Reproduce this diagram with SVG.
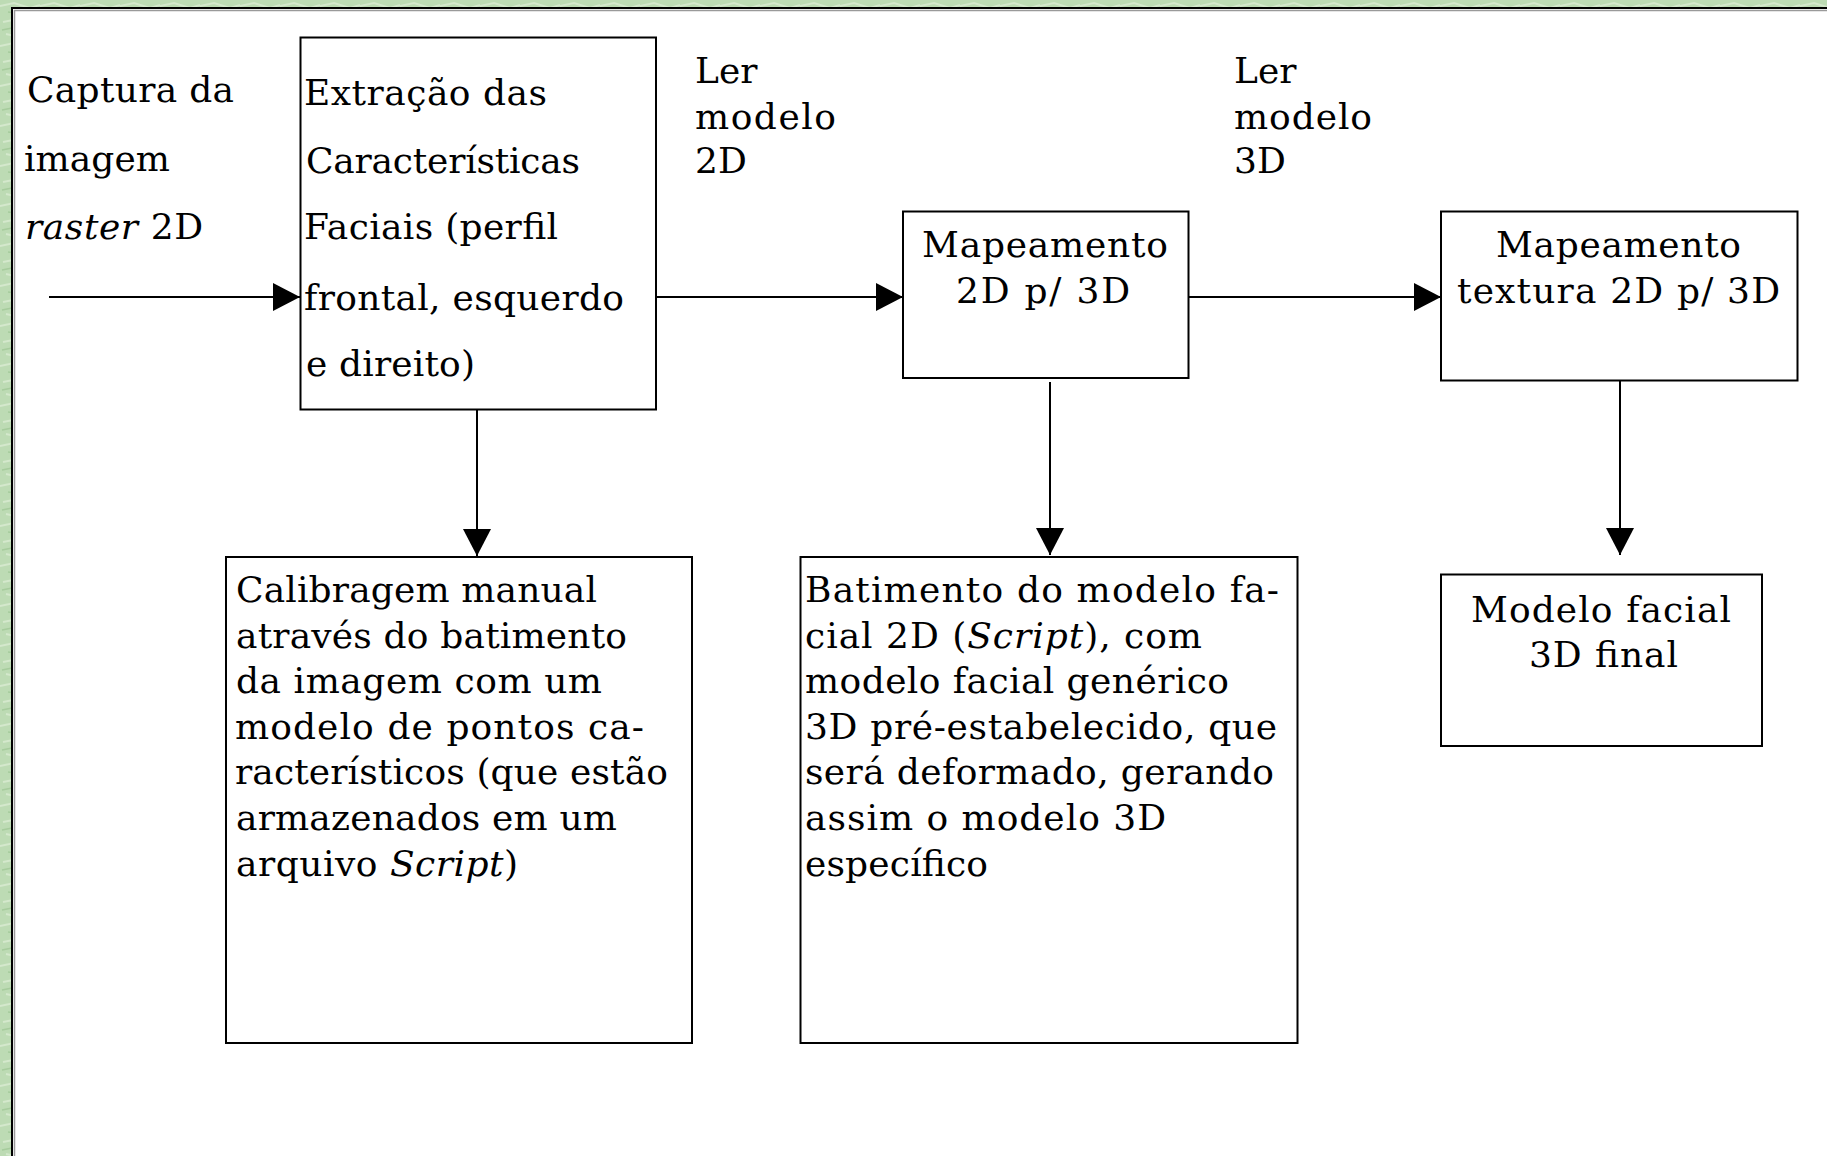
<svg xmlns="http://www.w3.org/2000/svg" width="1827" height="1156" viewBox="0 0 1827 1156">
<style>
text{font-family:'DejaVu Serif',serif;font-size:36px;fill:#000}
.box{fill:#fff;stroke:#000;stroke-width:2}
.con{stroke:#000;stroke-width:2;fill:none}
.it{font-style:italic}
</style>
<defs>
<marker id="ah" markerUnits="userSpaceOnUse" markerWidth="30" markerHeight="30" refX="27" refY="14" orient="auto">
<path d="M0,0 L27,14 L0,28 z" fill="#000"/>
</marker>
<pattern id="tex" width="40" height="40" patternUnits="userSpaceOnUse">
<rect width="40" height="40" fill="#bddbb4"/>
<path d="M0,6 L14,3 L30,8 L40,5 M3,22 L18,19 L26,25 L40,21 M6,34 L20,37 L34,32" stroke="#d4e8cc" stroke-width="2" fill="none"/>
<path d="M8,12 L22,14 L36,12 M2,30 L12,28" stroke="#a6cc9c" stroke-width="1.5" fill="none"/>
</pattern>
</defs>
<rect width="1827" height="1156" fill="url(#tex)"/>
<rect x="12" y="8" width="1815" height="1148" fill="#fff"/>
<path d="M12,1156 V8 H1827" fill="none" stroke="#000" stroke-width="2"/>
<path d="M14.5,1156 V10.5 H1827" fill="none" stroke="#9a9a9a" stroke-width="1.5"/>

<g id="label-captura">
<text x="27" y="102" textLength="207">Captura da</text>
<text x="24" y="171" textLength="146">imagem</text>
<text x="25" y="239" textLength="178"><tspan class="it">raster</tspan> 2D</text>
</g>

<g id="node-extracao">
<rect class="box" x="300.5" y="37.5" width="355.5" height="372"/>
<text x="304" y="105" textLength="243">Extração das</text>
<text x="306" y="173" textLength="274">Características</text>
<text x="304" y="239" textLength="254">Faciais (perfil</text>
<text x="304" y="310" textLength="320">frontal, esquerdo</text>
<text x="306" y="376" textLength="169">e direito)</text>
</g>

<g id="label-ler2d">
<text x="695" y="83">Ler</text>
<text x="695" y="129" textLength="141">modelo</text>
<text x="695" y="173">2D</text>
</g>

<g id="label-ler3d">
<text x="1234" y="83">Ler</text>
<text x="1234" y="129" textLength="138">modelo</text>
<text x="1234" y="173">3D</text>
</g>

<g id="node-mapeamento">
<rect class="box" x="903" y="211.5" width="285.5" height="166.5"/>
<text x="922" y="257" textLength="246">Mapeamento</text>
<text x="956" y="303" textLength="174">2D p/ 3D</text>
</g>

<g id="node-textura">
<rect class="box" x="1441" y="211.5" width="356.5" height="169"/>
<text x="1496" y="257" textLength="245">Mapeamento</text>
<text x="1457" y="303" textLength="323">textura 2D p/ 3D</text>
</g>

<g id="node-calibragem">
<rect class="box" x="226" y="557" width="466" height="486"/>
<text x="236" y="602" textLength="361">Calibragem manual</text>
<text x="236" y="648" textLength="391">através do batimento</text>
<text x="236" y="693" textLength="366">da imagem com um</text>
<text x="235" y="739" textLength="409">modelo de pontos ca-</text>
<text x="235" y="784" textLength="433">racterísticos (que estão</text>
<text x="236" y="830" textLength="381">armazenados em um</text>
<text x="236" y="876" textLength="282">arquivo <tspan class="it">Script</tspan>)</text>
</g>

<g id="node-batimento">
<rect class="box" x="800.5" y="557" width="497" height="486"/>
<text x="805" y="602" textLength="474">Batimento do modelo fa-</text>
<text x="805" y="648" textLength="397">cial 2D (<tspan class="it">Script</tspan>), com</text>
<text x="805" y="693" textLength="424">modelo facial genérico</text>
<text x="805" y="739" textLength="472">3D pré-estabelecido, que</text>
<text x="805" y="784" textLength="469">será deformado, gerando</text>
<text x="805" y="830" textLength="361">assim o modelo 3D</text>
<text x="805" y="876" textLength="183">específico</text>
</g>

<g id="node-final">
<rect class="box" x="1441" y="574.5" width="321" height="171.5"/>
<text x="1471" y="622" textLength="260">Modelo facial</text>
<text x="1529" y="667" textLength="149">3D final</text>
</g>

<g id="connectors">
<line class="con" x1="49" y1="297" x2="300" y2="297" marker-end="url(#ah)"/>
<line class="con" x1="657" y1="297" x2="903" y2="297" marker-end="url(#ah)"/>
<line class="con" x1="1189" y1="297" x2="1441" y2="297" marker-end="url(#ah)"/>
<line class="con" x1="477" y1="410" x2="477" y2="556" marker-end="url(#ah)"/>
<line class="con" x1="1050" y1="382" x2="1050" y2="555" marker-end="url(#ah)"/>
<line class="con" x1="1620" y1="381" x2="1620" y2="555" marker-end="url(#ah)"/>
</g>
</svg>
